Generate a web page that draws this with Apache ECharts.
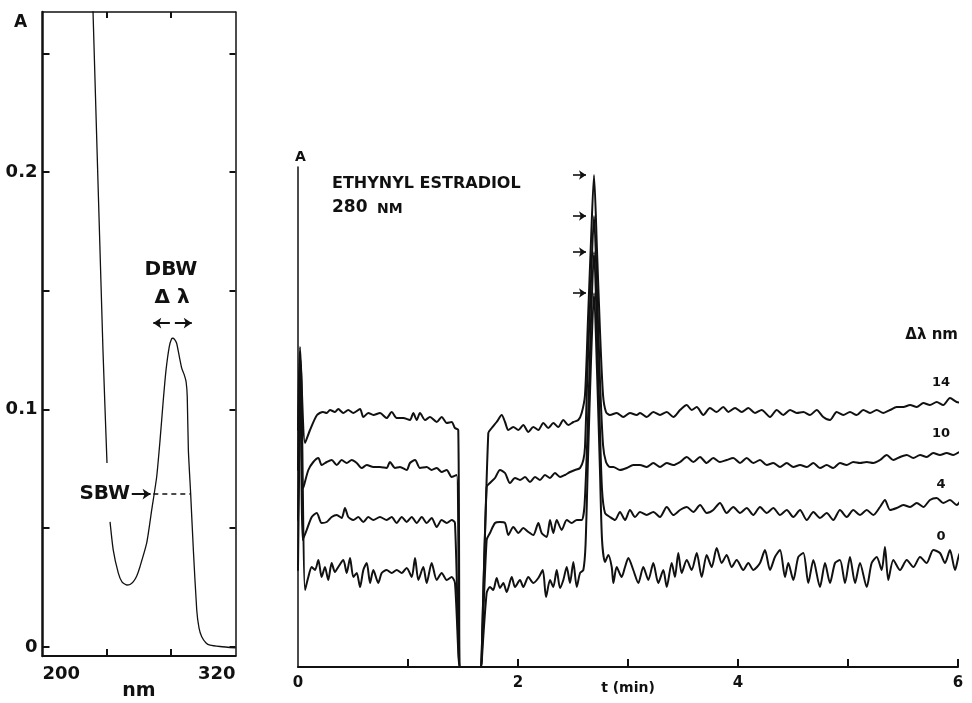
<!DOCTYPE html>
<html>
<head>
<meta charset="utf-8">
<script src="https://cdn.jsdelivr.net/npm/echarts@6/dist/echarts.min.js"></script>
<style>
html,body{margin:0;padding:0;background:#fff;}
#chart{width:972px;height:703px;}
</style>
</head>
<body>
<div id="chart"></div>
<script>
// ---------- Left panel: absorption spectrum (nm, A) ----------
const spectrum = [
  [231.2,0.2724],[237.6,0.1250],[240.1,0.0775],[241.0,null],
  [242.0,0.0527],[244.0,0.0408],[247.1,0.0312],[249.4,0.0274],[252.4,0.0261],
  [254.4,0.0263],[256.5,0.0275],[258.6,0.0299],[260.6,0.0338],[264.8,0.0438],
  [267.9,0.0577],[271.0,0.0717],[273.1,0.0872],[275.1,0.1040],[276.8,0.1166],
  [278.8,0.1264],[280.2,0.1297],[281.0,0.1300],[282.1,0.1295],[283.4,0.1279],
  [285.1,0.1222],[286.6,0.1173],[288.0,0.1149],[289.3,0.1116],[290.0,0.1054],
  [290.7,0.0829],[292.1,0.0648],[293.8,0.0408],[295.9,0.0156],[297.3,0.0080],
  [299.0,0.0043],[301.7,0.0017],[304.2,0.0008],[310.4,0.0002],[320.0,-0.0004]
];
const sbwLine = [[268.9,0.0644],[291.7,0.0644]];
const specYTicks = [0,0.05,0.1,0.15,0.2,0.25];
const specYLabels = [0,0.1,0.2];
const specXTicks = [240,280];
const specXLabels = [200,320];

// ---------- Right panel: chromatograms (t min, A arbitrary) ----------
const bandwidths = ['14','10','4','0'];
const trace14 = [
[0,237],[0.018,320],[0.064,224],[0.109,237],[0.173,252],[0.227,255],[0.261,254],[0.291,257],[0.336,255],[0.366,258],[0.412,254],[0.457,257],[0.503,254],[0.564,258],[0.594,250],[0.639,254],[0.685,252],[0.745,254],[0.806,249],[0.852,255],[0.897,249],[0.957,249],[1.018,247],[1.048,254],[1.079,247],[1.109,254],[1.155,247],[1.2,250],[1.261,245],[1.306,250],[1.352,244],[1.397,245],[1.427,239],[1.457,237],[1.468,0],[1.471,0],[1.667,0],[1.67,0],[1.73,234],[1.761,239],[1.806,245],[1.852,252],[1.882,245],[1.912,237],[1.957,240],[2.003,237],[2.048,242],[2.094,235],[2.139,240],[2.185,237],[2.23,244],[2.275,239],[2.321,244],[2.366,240],[2.412,247],[2.457,242],[2.503,245],[2.548,247],[2.579,254],[2.609,272],[2.636,347],[2.664,427],[2.691,492],[2.718,417],[2.745,337],[2.773,272],[2.8,255],[2.836,252],[2.897,254],[2.957,250],[3.018,254],[3.079,252],[3.109,254],[3.17,250],[3.23,255],[3.291,252],[3.352,255],[3.412,250],[3.473,257],[3.534,262],[3.579,257],[3.625,260],[3.685,252],[3.745,259],[3.806,255],[3.866,260],[3.912,255],[3.973,259],[4.034,255],[4.094,259],[4.155,254],[4.215,257],[4.291,250],[4.352,257],[4.412,252],[4.473,257],[4.534,254],[4.594,255],[4.655,252],[4.715,257],[4.775,250],[4.836,247],[4.897,255],[4.957,252],[5.018,255],[5.079,252],[5.139,257],[5.2,254],[5.261,257],[5.321,254],[5.382,257],[5.443,260],[5.503,260],[5.564,262],[5.625,260],[5.685,264],[5.745,262],[5.806,265],[5.866,262],[5.927,269],[5.988,265],[6.048,264],[6.109,260]
];
const trace10 = [
[0,197],[0.018,312],[0.048,179],[0.094,197],[0.139,205],[0.185,209],[0.215,202],[0.261,205],[0.306,207],[0.352,202],[0.397,207],[0.443,204],[0.488,207],[0.534,204],[0.579,199],[0.625,202],[0.685,200],[0.745,200],[0.806,199],[0.836,205],[0.882,199],[0.927,200],[0.988,197],[1.018,204],[1.064,207],[1.109,199],[1.17,200],[1.215,197],[1.261,199],[1.306,195],[1.352,197],[1.397,190],[1.443,192],[1.468,0],[1.471,0],[1.667,0],[1.67,0],[1.715,180],[1.745,184],[1.791,189],[1.836,197],[1.882,194],[1.927,184],[1.973,189],[2.018,187],[2.064,190],[2.109,185],[2.155,190],[2.2,187],[2.245,192],[2.291,189],[2.336,194],[2.382,190],[2.427,192],[2.473,195],[2.518,197],[2.564,199],[2.594,207],[2.609,220],[2.632,297],[2.664,387],[2.691,451],[2.718,377],[2.745,287],[2.773,222],[2.8,205],[2.836,200],[2.867,200],[2.927,197],[2.988,199],[3.048,202],[3.109,202],[3.17,200],[3.23,204],[3.291,200],[3.352,204],[3.412,202],[3.473,205],[3.534,210],[3.594,205],[3.655,210],[3.715,204],[3.775,209],[3.836,205],[3.897,207],[3.957,209],[4.018,204],[4.079,209],[4.139,204],[4.2,207],[4.261,202],[4.321,204],[4.382,200],[4.443,204],[4.503,200],[4.564,202],[4.625,200],[4.685,204],[4.745,199],[4.806,202],[4.866,199],[4.927,204],[4.988,202],[5.048,205],[5.109,204],[5.17,205],[5.23,204],[5.291,207],[5.352,212],[5.412,207],[5.473,210],[5.534,212],[5.594,209],[5.655,212],[5.715,210],[5.775,214],[5.836,212],[5.897,214],[5.957,212],[6.018,215],[6.079,212],[6.127,210]
];
const trace4 = [
[0,147],[0.023,307],[0.043,127],[0.079,137],[0.125,150],[0.17,154],[0.215,144],[0.261,145],[0.306,150],[0.352,152],[0.397,149],[0.427,159],[0.457,150],[0.503,147],[0.548,150],[0.594,145],[0.639,150],[0.685,147],[0.745,150],[0.806,147],[0.852,150],[0.897,144],[0.943,150],[0.988,145],[1.034,150],[1.079,144],[1.125,150],[1.17,144],[1.215,149],[1.261,140],[1.306,147],[1.352,144],[1.397,147],[1.427,144],[1.468,0],[1.471,0],[1.667,0],[1.67,0],[1.715,127],[1.745,134],[1.791,144],[1.836,145],[1.882,144],[1.912,132],[1.957,140],[2.003,134],[2.048,139],[2.094,135],[2.139,132],[2.185,144],[2.215,134],[2.261,130],[2.291,147],[2.321,134],[2.352,147],[2.397,137],[2.443,147],[2.488,144],[2.534,147],[2.579,147],[2.605,162],[2.636,247],[2.664,347],[2.691,415],[2.718,337],[2.745,237],[2.764,177],[2.791,154],[2.836,150],[2.882,147],[2.927,155],[2.973,147],[3.018,157],[3.064,150],[3.109,155],[3.17,152],[3.23,155],[3.291,150],[3.352,160],[3.412,152],[3.473,157],[3.534,160],[3.594,155],[3.655,162],[3.715,154],[3.775,157],[3.836,164],[3.897,154],[3.957,160],[4.018,154],[4.079,159],[4.139,152],[4.2,160],[4.261,154],[4.321,159],[4.382,152],[4.443,157],[4.503,150],[4.564,157],[4.625,147],[4.685,155],[4.745,149],[4.806,154],[4.866,147],[4.927,157],[4.988,150],[5.048,157],[5.109,152],[5.17,157],[5.23,152],[5.291,160],[5.336,167],[5.382,157],[5.443,159],[5.503,162],[5.564,160],[5.625,164],[5.685,160],[5.745,167],[5.806,169],[5.866,164],[5.927,167],[5.988,162],[6.048,169],[6.109,164]
];
const trace0 = [
[0,97],[0.027,302],[0.064,77],[0.094,90],[0.125,100],[0.155,97],[0.185,107],[0.215,90],[0.245,100],[0.275,87],[0.306,104],[0.336,95],[0.366,100],[0.412,107],[0.443,94],[0.473,109],[0.503,90],[0.534,94],[0.564,80],[0.594,97],[0.625,104],[0.655,84],[0.685,97],[0.73,84],[0.761,94],[0.806,97],[0.852,94],[0.897,97],[0.943,94],[0.988,99],[1.034,90],[1.064,109],[1.094,87],[1.139,100],[1.17,84],[1.215,104],[1.261,87],[1.306,94],[1.352,87],[1.397,90],[1.427,84],[1.468,0],[1.471,0],[1.667,0],[1.67,0],[1.715,74],[1.745,80],[1.775,77],[1.806,89],[1.836,79],[1.867,84],[1.897,75],[1.943,90],[1.973,80],[2.018,87],[2.048,80],[2.094,90],[2.139,84],[2.185,89],[2.225,97],[2.255,70],[2.291,87],[2.321,80],[2.352,97],[2.382,79],[2.412,87],[2.443,100],[2.473,84],[2.503,105],[2.534,80],[2.564,94],[2.594,97],[2.614,122],[2.636,207],[2.664,307],[2.691,374],[2.718,297],[2.745,197],[2.764,127],[2.791,105],[2.821,112],[2.852,100],[2.867,84],[2.897,100],[2.942,90],[2.973,100],[3.003,109],[3.048,97],[3.094,84],[3.139,100],[3.185,87],[3.23,104],[3.275,84],[3.321,97],[3.352,80],[3.397,104],[3.427,90],[3.457,114],[3.488,94],[3.534,107],[3.579,97],[3.625,114],[3.67,90],[3.715,112],[3.761,100],[3.806,119],[3.852,104],[3.897,112],[3.943,100],[3.988,107],[4.048,97],[4.094,104],[4.139,97],[4.2,104],[4.245,117],[4.291,97],[4.336,110],[4.382,117],[4.427,90],[4.457,104],[4.503,87],[4.548,110],[4.594,114],[4.639,84],[4.685,107],[4.745,80],[4.791,104],[4.836,84],[4.882,104],[4.927,107],[4.973,84],[5.018,110],[5.064,84],[5.109,104],[5.17,80],[5.215,104],[5.261,110],[5.306,97],[5.336,120],[5.366,87],[5.412,107],[5.473,97],[5.534,107],[5.594,100],[5.655,110],[5.715,104],[5.775,117],[5.836,114],[5.882,104],[5.927,117],[5.973,97],[6.018,114],[6.079,100],[6.127,104]
];
const peakApex = [492, 451, 415, 374];
const chromXTicks = [1,2,3,4,5,6];
const chromXLabels = [0,2,4,6];

// ---------- annotation anchors (data units) ----------
const sbwArrow = [[255.5,0.0644],[267.2,0.0644]];
const dbwArrowL = [[279.2,0.1364],[268.9,0.1364]];
const dbwArrowR = [[282.3,0.1364],[292.8,0.1364]];
const peakArrowT = [2.5, 2.618];

const FF = '"DejaVu Sans", sans-serif';
const INK = '#111';
const chart = echarts.init(document.getElementById('chart'));

function arrowLine(p, q) {
  return [{coord: p}, {coord: q}];
}

const traces = [trace14, trace10, trace4, trace0];
const traceSeries = traces.map((d, i) => ({
  type: 'line', xAxisIndex: 2, yAxisIndex: 2, data: d,
  showSymbol: false, clip: false, silent: true, smooth: 0.25,
  lineStyle: {color: INK, width: 2, join: 'round', cap: 'round'}, z: 3,
  markLine: {
    silent: true, symbol: ['none', 'arrow'], symbolSize: 7,
    label: {show: false},
    lineStyle: {color: INK, width: 1.6, type: 'solid'},
    data: [[{coord: [peakArrowT[0], peakApex[i]]}, {coord: [peakArrowT[1], peakApex[i]]}]]
  }
}));

function txt(text, x, y, size, align, valign) {
  return {type: 'text', x: x, y: y, silent: true,
    style: {text: text, fill: INK, font: 'bold ' + size + 'px ' + FF,
      align: align || 'left', verticalAlign: valign || 'middle'}};
}

const option = {
  backgroundColor: '#fff',
  animation: false,
  grid: [
    {left: 42.5, top: 12, width: 193, height: 644, containLabel: false, outerBoundsMode: 'none'},
    {left: 298, top: 167, width: 660, height: 500, containLabel: false, outerBoundsMode: 'none'}
  ],
  xAxis: [
    {type: 'value', gridIndex: 0, min: 200, max: 320, position: 'bottom',
     axisLine: {onZero: false, lineStyle: {color: INK, width: 2}},
     axisTick: {inside: true, length: 7, customValues: specXTicks, lineStyle: {color: INK, width: 2}},
     axisLabel: {customValues: specXLabels, alignMinLabel: 'left', alignMaxLabel: 'right',
       margin: 9, color: INK, fontFamily: FF, fontWeight: 'bold', fontSize: 18},
     splitLine: {show: false},
     name: 'nm', nameLocation: 'middle', nameGap: 26, nameMoveOverlap: false,
     nameTextStyle: {color: INK, fontFamily: FF, fontWeight: 'bold', fontSize: 19}},
    {type: 'value', gridIndex: 0, min: 200, max: 320, position: 'top',
     axisLine: {onZero: false, lineStyle: {color: INK, width: 1.5}},
     axisTick: {inside: true, length: 6, customValues: specXTicks, lineStyle: {color: INK, width: 2}},
     axisLabel: {show: false}, splitLine: {show: false}},
    {type: 'value', gridIndex: 1, min: 0, max: 6,
     axisLine: {onZero: false, lineStyle: {color: INK, width: 2}},
     axisTick: {inside: true, length: 8, customValues: chromXTicks, lineStyle: {color: INK, width: 2}},
     axisLabel: {customValues: chromXLabels, margin: 9, color: INK, fontFamily: FF, fontWeight: 'bold', fontSize: 15},
     splitLine: {show: false},
     name: 't (min)', nameLocation: 'middle', nameGap: 14, nameMoveOverlap: false,
     nameTextStyle: {color: INK, fontFamily: FF, fontWeight: 'bold', fontSize: 14}}
  ],
  yAxis: [
    {type: 'value', gridIndex: 0, min: -0.0038, max: 0.2674, position: 'left',
     axisLine: {show: true, onZero: false, lineStyle: {color: INK, width: 2.5}},
     axisTick: {show: true, inside: true, length: 7, customValues: specYTicks, lineStyle: {color: INK, width: 2}},
     axisLabel: {customValues: specYLabels, margin: 5, color: INK, fontFamily: FF, fontWeight: 'bold', fontSize: 18,
       formatter: v => (Math.round(v * 10) / 10).toString()},
     splitLine: {show: false}},
    {type: 'value', gridIndex: 0, min: -0.0038, max: 0.2674, position: 'right',
     axisLine: {show: true, onZero: false, lineStyle: {color: INK, width: 1.5}},
     axisTick: {show: true, inside: true, length: 6, customValues: specYTicks, lineStyle: {color: INK, width: 2}},
     axisLabel: {show: false}, splitLine: {show: false}},
    {type: 'value', gridIndex: 1, min: 0, max: 500,
     axisLine: {show: true, onZero: false, lineStyle: {color: INK, width: 1.5}},
     axisTick: {show: false}, axisLabel: {show: false}, splitLine: {show: false},
     name: 'A', nameLocation: 'end', nameGap: 3, nameMoveOverlap: false,
     nameTextStyle: {color: INK, fontFamily: FF, fontWeight: 'bold', fontSize: 14, align: 'left', padding: [0,0,0,-3]}}
  ],
  series: [
    {type: 'line', xAxisIndex: 0, yAxisIndex: 0, data: spectrum, showSymbol: false, silent: true,
     connectNulls: false, smooth: 0.2, lineStyle: {color: INK, width: 1.3, join: 'round'},
     markLine: {
       silent: true, symbol: ['none', 'arrow'], symbolSize: 8, label: {show: false},
       lineStyle: {color: INK, width: 2, type: 'solid'},
       data: [arrowLine(sbwArrow[0], sbwArrow[1]), arrowLine(dbwArrowL[0], dbwArrowL[1]), arrowLine(dbwArrowR[0], dbwArrowR[1])]
     }},
    {type: 'line', xAxisIndex: 0, yAxisIndex: 0, data: sbwLine, showSymbol: false, silent: true,
     lineStyle: {color: INK, width: 1.6, type: [5, 4]}},
    ...traceSeries
  ],
  graphic: [
    txt('A', 14, 23, 17),
    txt('DBW', 171, 270, 20, 'center'),
    txt('Δ λ', 172, 298, 20, 'center'),
    txt('SBW', 130, 494, 20, 'right'),
    txt('ETHYNYL ESTRADIOL', 332, 184, 16),
    txt('280', 332, 216, 17, 'left', 'bottom'),
    txt('NM', 377, 216, 14, 'left', 'bottom'),
    txt('Δλ nm', 958, 335, 15, 'right'),
    txt(bandwidths[0], 941, 383, 13, 'center'),
    txt(bandwidths[1], 941, 434, 13, 'center'),
    txt(bandwidths[2], 941, 485, 13, 'center'),
    txt(bandwidths[3], 941, 537, 13, 'center')
  ]
};
chart.setOption(option);
</script>
</body>
</html>
